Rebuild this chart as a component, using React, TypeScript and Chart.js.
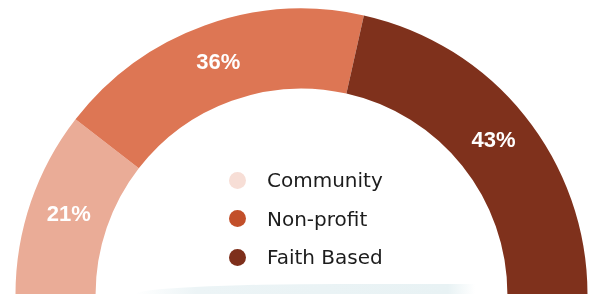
import React, { useEffect, useRef } from "react";
import { Chart, registerables } from "chart.js";

Chart.register(...registerables);

const categories = ["Community", "Non-profit", "Faith Based"];
const shares = [21, 36, 43];
const segmentColors = ["#EAAC97", "#DD7654", "#7F311C"];
const legendColors = ["#F7DED6", "#C24F2A", "#7E2F1B"];

const labelPlugin = {
  id: "pctLabels",
  afterDatasetsDraw(chart: any) {
    const ctx = chart.ctx;
    const meta = chart.getDatasetMeta(0);
    const data = chart.data.datasets[0].data as number[];
    ctx.save();
    ctx.fillStyle = "#ffffff";
    ctx.font = "bold 22px 'Liberation Sans', Arial, sans-serif";
    ctx.textAlign = "center";
    ctx.textBaseline = "middle";
    meta.data.forEach((arc: any, i: number) => {
      const p = arc.getCenterPoint();
      ctx.fillText(data[i] + "%", p.x, p.y);
    });
    ctx.restore();
  },
};

export default function App() {
  const ref = useRef<HTMLCanvasElement | null>(null);
  useEffect(() => {
    if (!ref.current) return;
    const chart = new Chart(ref.current, {
      type: "doughnut",
      data: {
        labels: categories,
        datasets: [
          {
            data: shares,
            backgroundColor: segmentColors,
            borderWidth: 0,
            hoverOffset: 0,
          },
        ],
      },
      options: {
        responsive: false,
        animation: false,
        rotation: -90,
        circumference: 180,
        cutout: "72%",
        layout: { padding: { left: 15.5, right: 4.5, top: 8.5, bottom: 5.5 } },
        plugins: {
          legend: { display: false },
          tooltip: { enabled: false },
        },
      },
      plugins: [labelPlugin],
    });
    return () => chart.destroy();
  }, []);

  return (
    <div
      style={{
        position: "fixed",
        left: 0,
        top: 0,
        width: 592,
        height: 294,
        background: "#ffffff",
        overflow: "hidden",
      }}
    >
      <div
        style={{
          position: "absolute",
          left: 135,
          top: 284,
          width: 340,
          height: 10,
          background:
            "linear-gradient(to right, rgba(255,255,255,0), rgba(236,244,246,1) 18%, rgba(232,242,244,1) 92%, rgba(255,255,255,0))",
          borderTopLeftRadius: "60% 100%",
        }}
      />
      <canvas
        ref={ref}
        width={592}
        height={300}
        style={{ position: "absolute", left: 0, top: 0, width: 592, height: 300 }}
      />
      <div
        style={{
          position: "absolute",
          left: 229,
          top: 161,
          fontFamily: "'DejaVu Sans', sans-serif",
          fontSize: 20,
          color: "#1c1c1c",
        }}
      >
        {categories.map((c, i) => (
          <div
            key={c}
            style={{ display: "flex", alignItems: "center", height: 38.5 }}
          >
            <span
              style={{
                display: "inline-block",
                width: 17,
                height: 17,
                borderRadius: "50%",
                background: legendColors[i],
                marginRight: 21,
              }}
            />
            <span>{c}</span>
          </div>
        ))}
      </div>
    </div>
  );
}
